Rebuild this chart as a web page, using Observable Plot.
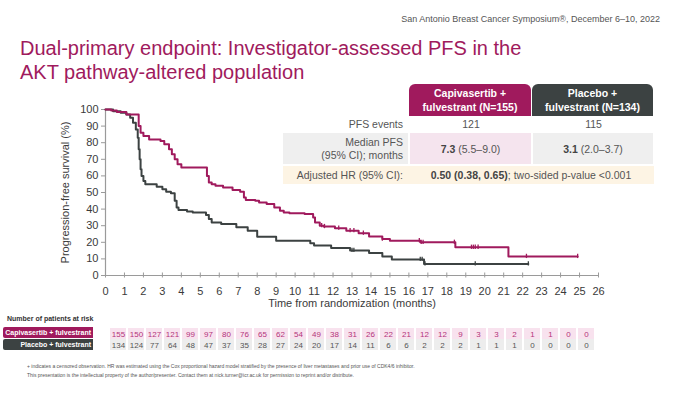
<!DOCTYPE html>
<html><head><meta charset="utf-8">
<script src="https://cdn.jsdelivr.net/npm/d3@7"></script>
<script src="https://cdn.jsdelivr.net/npm/@observablehq/plot@0.6"></script>
<style>
body{margin:0;background:#fff;font-family:"Liberation Sans",Arial,sans-serif;}
#page{position:relative;width:673px;height:399px;overflow:hidden;background:#fff;}
.abs{position:absolute;}
.hdr{position:absolute;color:#fff;font-weight:bold;font-size:10.5px;line-height:14px;text-align:center;border-radius:6px 6px 0 0;display:flex;align-items:center;justify-content:center;}
.cell{position:absolute;font-size:10.5px;color:#555;display:flex;align-items:center;}
.lab{justify-content:flex-end;text-align:right;padding-right:5px;box-sizing:border-box;line-height:13px;}
.val{justify-content:center;}
.risklab{position:absolute;color:#fff;font-weight:bold;font-size:7px;text-align:right;padding-right:2px;box-sizing:border-box;line-height:11px;border-radius:2px 0 0 2px;white-space:nowrap;font-family:"Liberation Sans Narrow","Arial Narrow","Liberation Sans",sans-serif;}
svg{position:absolute;left:0;}
</style></head><body><div id="page"></div>
<script>
// ---------- data ----------
const xTicks = d3.range(0, 27);
const yTicks = [0, 10, 20, 30, 40, 50, 60, 70, 80, 90, 100];
const arms = ["Capivasertib + fulvestrant", "Placebo + fulvestrant"];

// Kaplan-Meier steps (start time of each level, survival %)
const capiT = [0, 0.3, 0.6, 1.1, 1.75, 1.85, 2.0, 2.3, 2.9, 3.1, 3.35, 3.5, 3.65, 3.8, 4.0, 5.35, 5.45, 5.6, 5.8, 6.2, 6.7, 7.1, 7.3, 7.4, 7.9, 8.1, 8.5, 8.9, 9.2, 9.4, 9.7, 10.5, 10.95, 11.05, 11.3, 11.5, 12.1, 12.7, 13.35, 13.9, 14.6, 15.0, 16.6, 18.45, 21.25, 24.9];
const capiS = [100, 99.4, 98.5, 97, 90, 86, 84, 82, 81, 79, 76, 73, 70, 67, 65, 60, 56, 55, 54, 53, 51.5, 50.5, 47, 45.5, 45, 44, 43, 41, 39, 38, 37.5, 37, 35, 32, 30, 29.5, 28.5, 27, 25.5, 23.5, 22, 21, 20, 17, 11.5, 11.5];
const placT = [0, 0.4, 0.8, 1.1, 1.3, 1.45, 1.6, 1.7, 1.75, 1.8, 1.85, 1.9, 2.0, 2.1, 2.7, 3.0, 3.2, 3.45, 3.65, 3.75, 3.85, 4.3, 4.6, 5.3, 5.45, 5.6, 6.1, 6.9, 7.5, 8.0, 9.0, 10.8, 11.0, 11.9, 12.9, 13.9, 14.6, 15.1, 16.8, 22.3];
const placS = [100, 99, 98, 97, 95, 92, 88, 83, 76, 70, 64, 60, 57, 55, 53.5, 52, 50.5, 49.5, 45, 41, 39.5, 38.5, 38, 36.5, 34, 32, 31, 29, 27, 23.4, 21, 19.5, 18.1, 16.5, 15.1, 13.5, 11.5, 9.7, 7, 7];
// censored observations (months)
const capiCens = [11.4, 11.55, 12.3, 12.9, 13.1, 13.6, 14.6, 16.55, 16.65, 16.75, 18.4, 19.3, 19.4, 19.5, 19.65, 22.2, 24.9];
const placCens = [13.0, 13.1, 16.6, 16.7, 16.85, 19.5, 22.3];

// numbers at risk
const riskCapi = [155, 150, 127, 121, 99, 97, 80, 76, 65, 62, 54, 49, 38, 31, 26, 22, 21, 12, 12, 9, 3, 3, 2, 1, 1, 0, 0];
const riskPlac = [134, 124, 77, 64, 48, 47, 37, 35, 28, 27, 24, 20, 17, 14, 11, 6, 6, 2, 2, 2, 1, 1, 1, 0, 0, 0, 0];

// summary table
const colHeads = [["Capivasertib +", "fulvestrant (N=155)"], ["Placebo +", "fulvestrant (N=134)"]];
const pfsEvents = ["121", "115"];
const medianBold = ["7.3", "3.1"];
const medianCI = ["(5.5–9.0)", "(2.0–3.7)"];
const hrBold = "0.50 (0.38, 0.65)";
const hrRest = "; two-sided p-value <0.001";

const titleLines = ["Dual-primary endpoint: Investigator-assessed PFS in the", "AKT pathway-altered population"];
const meeting = "San Antonio Breast Cancer Symposium®, December 6–10, 2022";
const footLines = ["+ indicates a censored observation. HR was estimated using the Cox proportional hazard model stratified by the presence of liver metastases and prior use of CDK4/6 inhibitor.",
  "This presentation is the intellectual property of the author/presenter. Contact them at nick.turner@icr.ac.uk for permission to reprint and/or distribute."];

// ---------- styles ----------
const MAG = "#a01a5d", DARK = "#3c4242";
const page = document.getElementById("page");
function div(cls, style, html) {
  const d = document.createElement("div");
  d.className = cls; d.style.cssText = style; d.innerHTML = html; page.appendChild(d); return d;
}

// ---------- main chart ----------
const capiData = capiT.map((t, i) => ({t, s: capiS[i]}));
const placData = placT.map((t, i) => ({t, s: placS[i]}));
const stepAt = (T, S, t) => { let v = S[0]; for (let i = 0; i < T.length; i++) if (T[i] <= t) v = S[i]; return v; };
const capiC = capiCens.map(t => ({t, s: stepAt(capiT, capiS, t)}));
const placC = placCens.map(t => ({t, s: stepAt(placT, placS, t)}));

const chart = Plot.plot({
  width: 673, height: 315,
  marginTop: 109, marginBottom: 40, marginLeft: 105, marginRight: 75,
  x: {domain: [0, 26]},
  y: {domain: [0, 100]},
  style: {fontFamily: "Liberation Sans, Arial, sans-serif", fontSize: "11px", color: "#3a3a3a", background: "transparent", overflow: "visible"},
  marks: [
    Plot.axisY(yTicks, {tickSize: 4, tickPadding: 3, label: null, stroke: "#9a9a9a"}),
    Plot.axisX(xTicks, {tickSize: 0, tickPadding: 12, label: null}),
    Plot.ruleX(xTicks, {x: d => d, y1: -1.5, y2: 1.5, stroke: "#9a9a9a"}),
    Plot.ruleY([0], {stroke: "#9a9a9a", strokeWidth: 1.2}),
    Plot.ruleX([0], {stroke: "#9a9a9a", strokeWidth: 1.2}),
    Plot.line(placData, {x: "t", y: "s", curve: "step-after", stroke: DARK, strokeWidth: 2}),
    Plot.line(capiData, {x: "t", y: "s", curve: "step-after", stroke: MAG, strokeWidth: 2}),
    Plot.ruleX(placC, {x: "t", y1: d => d.s - 1.3, y2: d => d.s + 1.3, stroke: DARK, strokeWidth: 1.3}),
    Plot.ruleX(capiC, {x: "t", y1: d => d.s - 1.3, y2: d => d.s + 1.3, stroke: MAG, strokeWidth: 1.3}),
    Plot.text(["Time from randomization (months)"], {frameAnchor: "bottom", textAnchor: "middle", dy: 31, fontSize: 11, fill: "#3a3a3a"}),
    Plot.text(["Progression-free survival (%)"], {frameAnchor: "left", textAnchor: "middle", dx: -40, rotate: -90, fontSize: 11, fill: "#3a3a3a"})
  ]
});
chart.style.top = "0px";
page.appendChild(chart);

// ---------- header & title ----------
div("abs", "right:13px;top:14px;font-size:9px;color:#555;white-space:nowrap;", meeting);
div("abs", `left:20px;top:36px;font-size:20px;line-height:24px;color:${MAG};white-space:nowrap;`, titleLines.join("<br>"));

// ---------- summary table ----------
const colX = [410, 533], colW = [122, 121];
colHeads.forEach((h, i) => div("hdr", `left:${colX[i] - 1}px;top:84px;width:${colW[i]}px;height:32px;background:${i ? DARK : MAG};`, h.join("<br>")));
div("cell lab", "left:283px;top:117px;width:125px;height:14px;", "PFS events");
pfsEvents.forEach((v, i) => div("cell val", `left:${colX[i]}px;top:117px;width:${colW[i]}px;height:14px;`, v));
div("cell lab", "left:283px;top:133px;width:125px;height:31px;background:#efefef;", "Median PFS<br>(95% CI); months");
medianBold.forEach((v, i) => div("cell val", `left:${colX[i]}px;top:133px;width:${colW[i] - 1}px;height:31px;background:${i ? "#efefef" : "#f5e4ee"};`, `<b style="color:#444">${v}</b>&nbsp;${medianCI[i]}`));
div("cell lab", "left:283px;top:166px;width:125px;height:18px;background:#fdf4e4;", "Adjusted HR (95% CI):");
div("cell val", "left:408px;top:166px;width:246px;height:18px;background:#fdf4e4;", `<b style="color:#444">${hrBold}</b>${hrRest}`);

// ---------- risk table ----------
div("abs", "left:7px;top:315px;font-size:7px;font-weight:bold;color:#333;", "Number of patients at risk");
div("risklab", `left:3px;top:327px;width:90px;height:11px;background:${MAG};`, arms[0]);
div("risklab", `left:3px;top:339px;width:90px;height:11px;background:${DARK};`, arms[1]);

const riskData = [];
xTicks.forEach((m, i) => {
  riskData.push({m, arm: arms[0], n: riskCapi[i]});
  riskData.push({m, arm: arms[1], n: riskPlac[i]});
});
const step = (598 - 105) / 26;
const risk = Plot.plot({
  width: 673, height: 24,
  marginTop: 0, marginBottom: 0, marginLeft: 105 - step / 2, marginRight: 673 - (598 + step / 2),
  x: {type: "band", domain: xTicks, padding: 0},
  y: {type: "band", domain: arms, padding: 0.04},
  axis: null,
  style: {fontFamily: "Liberation Sans, Arial, sans-serif", fontSize: "8px", background: "transparent"},
  marks: [
    Plot.cell(riskData, {x: "m", y: "arm", fill: d => d.arm === arms[0] ? "#f8e2ee" : "#ededed", insetLeft: 1, insetRight: 1}),
    Plot.text(riskData, {x: "m", y: "arm", text: "n", fill: d => d.arm === arms[0] ? "#b3337a" : "#555", fontSize: 8})
  ]
});
risk.style.top = "327px";
page.appendChild(risk);

// ---------- footnotes ----------
div("abs", "left:27px;top:362px;font-size:5px;line-height:9px;color:#555;white-space:nowrap;", footLines.join("<br>"));
</script>
</body></html>
